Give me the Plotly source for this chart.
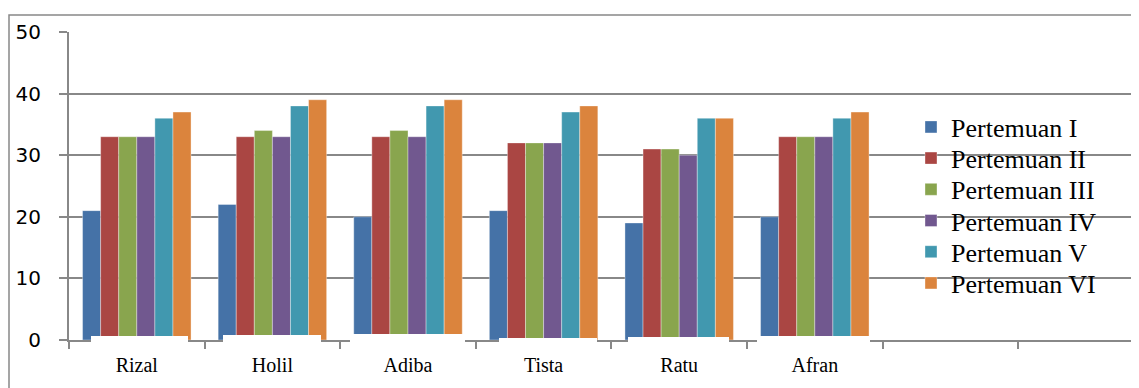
import plotly.graph_objects as go

students = ["Rizal", "Holil", "Adiba", "Tista", "Ratu", "Afran"]
empty_cats = [" ", "  "]
series_names = ["Pertemuan I", "Pertemuan II", "Pertemuan III",
                "Pertemuan IV", "Pertemuan V", "Pertemuan VI"]
p1 = [21, 22, 20, 21, 19, 20]
p2 = [33, 33, 33, 32, 31, 33]
p3 = [33, 34, 34, 32, 31, 33]
p4 = [33, 33, 33, 32, 30, 33]
p5 = [36, 38, 38, 37, 36, 36]
p6 = [37, 39, 39, 38, 36, 37]
series_values = [p1, p2, p3, p4, p5, p6]
colors = ["#4572A7", "#AA4643", "#89A54E", "#71588F", "#4198AF", "#DB843D"]
y_ticks = [0, 10, 20, 30, 40, 50]

# page body has an 8px margin, so work in figure coordinates (screen - 8)
OFF = 8
W, H = 1139 - OFF, 388 - OFF
plot_left, plot_top, plot_bottom = 69 - OFF, 32 - OFF, 340 - OFF
ml, mt, mb, mr = plot_left, plot_top, H - plot_bottom, 0
pw = W - ml - mr
ph = H - mt - mb
cat_w = 135.6

def px(x):  # screen x -> paper x
    return (x - OFF - ml) / pw

def py(y):  # screen y -> paper y
    return (plot_bottom - (y - OFF)) / ph

fig = go.Figure()
legend_names = ["legend"] + ["legend%d" % i for i in range(2, 7)]
for name, vals, col, lg in zip(series_names, series_values, colors, legend_names):
    fig.add_trace(go.Bar(
        name=name, x=students, y=vals, legend=lg,
        marker=dict(color=col, line=dict(color="rgba(255,255,255,0.6)", width=0.6)),
    ))

legend_layout = {}
for i, lg in enumerate(legend_names):
    legend_layout[lg] = dict(
        x=px(911), y=py(127 + 31.2 * i), xanchor="left", yanchor="middle",
        bgcolor="rgba(0,0,0,0)", borderwidth=0,
        font=dict(family="Liberation Serif", size=26, color="black"),
        itemwidth=30,
    )

fig.update_layout(
    width=W, height=H,
    margin=dict(l=ml, r=mr, t=mt, b=mb),
    paper_bgcolor="white", plot_bgcolor="white",
    barmode="group", bargap=0.2, bargroupgap=0,
    showlegend=True,
    xaxis=dict(
        type="category",
        categoryorder="array", categoryarray=students + empty_cats,
        range=[-0.5, -0.5 + pw / cat_w],
        tickson="boundaries", ticks="outside", ticklen=7, tickwidth=1.5,
        tickcolor="#888888",
        showline=True, linecolor="#888888", linewidth=2,
        showgrid=False, zeroline=False,
        tickfont=dict(family="Liberation Serif", size=20, color="black"),
        ticklabelstandoff=6,
    ),
    yaxis=dict(
        range=[0, 50], tickvals=y_ticks,
        ticks="outside", ticklen=8, tickwidth=1.5, tickcolor="#888888",
        showline=True, linecolor="#888888", linewidth=2,
        showgrid=True, gridcolor="#888888", gridwidth=1.5,
        zeroline=False,
        tickfont=dict(family="DejaVu Sans", size=20, color="black"),
        ticklabelstandoff=14,
    ),
    **legend_layout,
)

# outer chart border
fig.add_shape(type="rect", xref="paper", yref="paper",
              x0=px(9), x1=1.05, y0=-0.3, y1=py(15),
              line=dict(color="#888888", width=1.5), fillcolor="rgba(0,0,0,0)",
              layer="below")

# white label-background boxes overlapping the bar bases (as in the original)
label_boxes = [(91, 188, 336), (223, 321, 335), (350, 465, 334),
               (499, 597, 338), (628, 729, 337), (757, 870, 336)]
for x0, x1, y0 in label_boxes:
    fig.add_shape(type="rect", xref="paper", yref="paper",
                  x0=px(x0), x1=px(x1), y0=py(351), y1=py(y0),
                  line=dict(width=0), fillcolor="white", layer="above")

fig.write_html("out.html")
